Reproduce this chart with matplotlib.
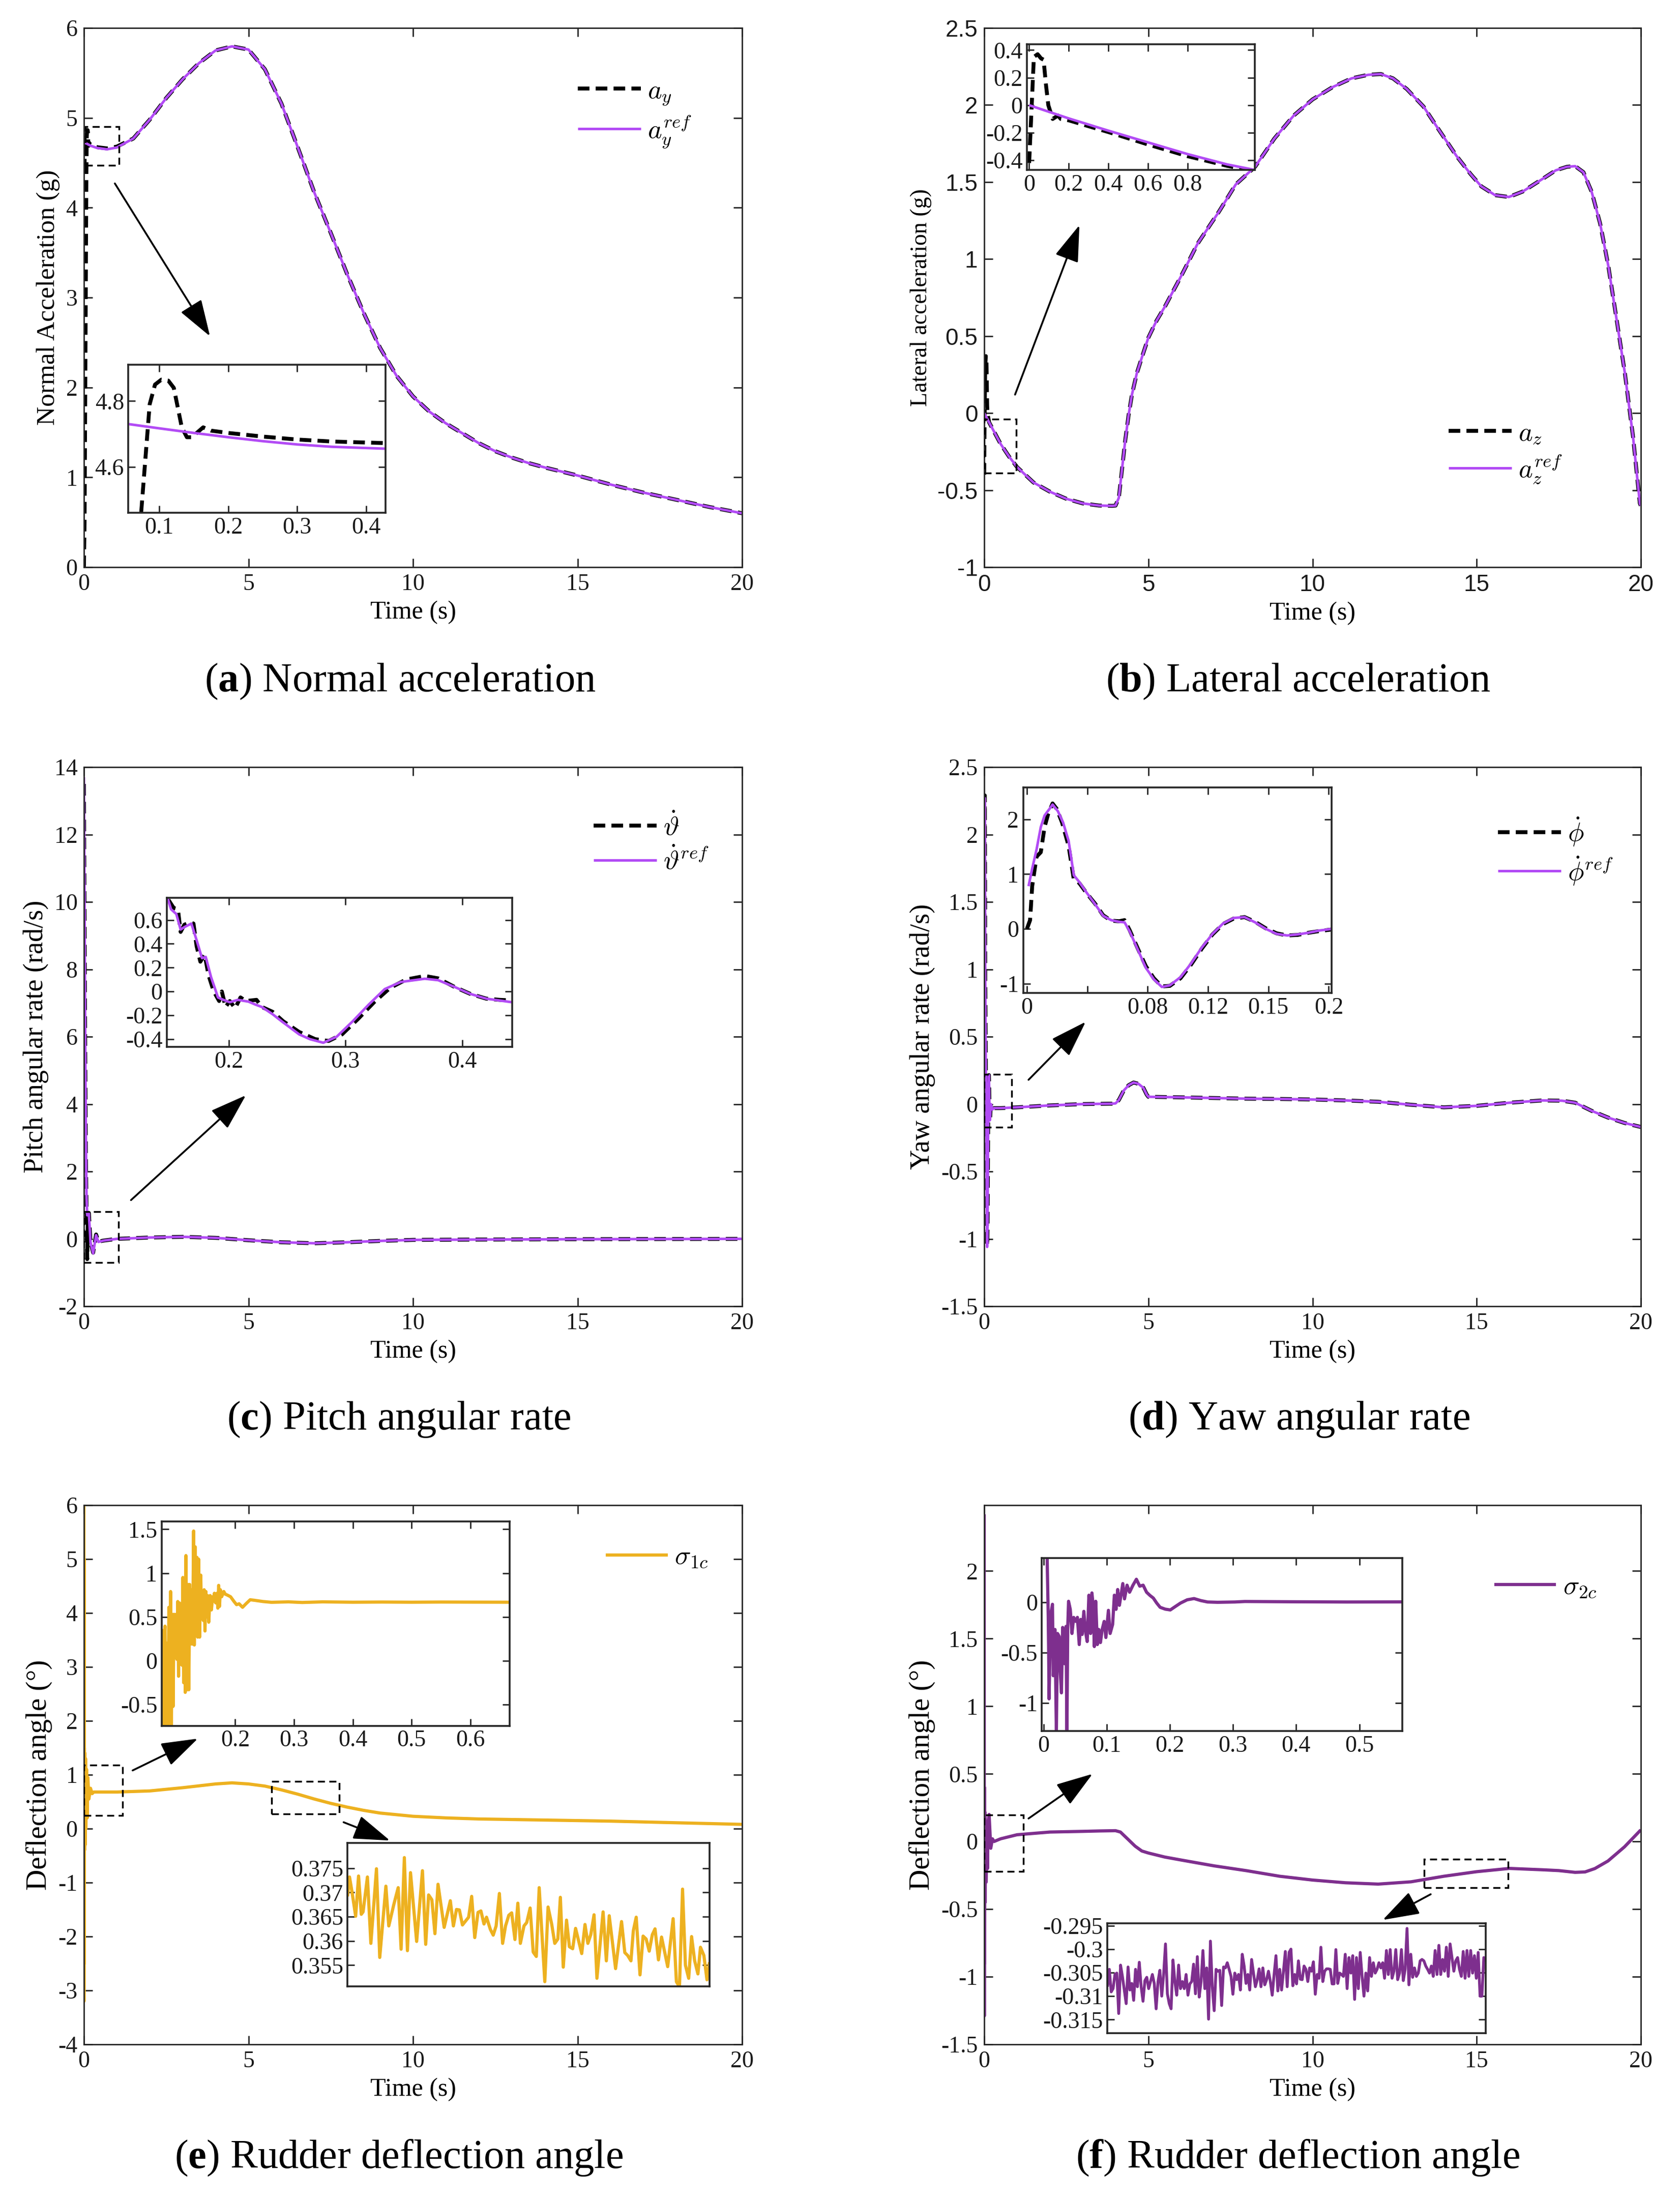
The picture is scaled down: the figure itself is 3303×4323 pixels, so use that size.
import numpy as np
import matplotlib
matplotlib.use('Agg')
import matplotlib.pyplot as plt
from matplotlib import font_manager
from matplotlib.patches import Rectangle
from matplotlib.ticker import FuncFormatter

# ---------------- DATA ----------------
# (a) normal acceleration
a_ref_t = [0, 0.05, 0.1, 0.2, 0.4, 0.7, 1.0, 1.5, 2.0, 2.5, 3.0, 3.5, 4.0, 4.5, 5.0, 5.5, 6.0, 6.5, 7.0, 7.5,
           8.0, 8.5, 9.0, 9.5, 10, 10.5, 11, 11.5, 12, 12.5, 13, 13.5, 14, 15, 16, 17, 18, 19, 20]
a_ref_v = [4.73, 4.72, 4.71, 4.69, 4.665, 4.65, 4.67, 4.77, 4.98, 5.22, 5.43, 5.61, 5.75, 5.795, 5.76, 5.54,
           5.16, 4.67, 4.17, 3.72, 3.26, 2.83, 2.44, 2.13, 1.9, 1.73, 1.6, 1.49, 1.38, 1.29, 1.22, 1.16, 1.11,
           1.02, 0.92, 0.83, 0.75, 0.67, 0.6]
a_y_t = [0, 0.02, 0.075, 0.086, 0.094, 0.103, 0.113, 0.121, 0.133, 0.14, 0.15, 0.164, 0.175, 0.2, 0.3, 0.43, 0.7,
         1.0, 1.5, 2.0, 2.5, 3.0, 3.5, 4.0, 4.5, 5.0, 5.5, 6.0, 6.5, 7.0, 7.5, 8.0, 8.5, 9.0, 9.5, 10, 10.5, 11,
         11.5, 12, 12.5, 13, 13.5, 14, 15, 16, 17, 18, 19, 20]
a_y_v = [0, 0.5, 4.4, 4.79, 4.85, 4.865, 4.862, 4.84, 4.72, 4.69, 4.69, 4.72, 4.71, 4.703, 4.683, 4.672, 4.66,
         4.68, 4.77, 4.98, 5.22, 5.43, 5.61, 5.75, 5.795, 5.76, 5.54, 5.16, 4.67, 4.17, 3.72, 3.26, 2.83, 2.44,
         2.13, 1.9, 1.73, 1.6, 1.49, 1.38, 1.29, 1.22, 1.16, 1.11, 1.02, 0.92, 0.83, 0.75, 0.67, 0.6]
ai_ref_t = [0.055, 0.1, 0.15, 0.2, 0.25, 0.3, 0.35, 0.43]
ai_ref_v = [4.73, 4.717, 4.703, 4.69, 4.678, 4.668, 4.661, 4.655]
ai_y_t = [0.068, 0.0729, 0.086, 0.0938, 0.103, 0.113, 0.121, 0.1326, 0.140, 0.147, 0.1636, 0.175, 0.2, 0.25,
          0.3, 0.35, 0.43]
ai_y_v = [4.3, 4.44, 4.79, 4.85, 4.865, 4.862, 4.84, 4.72, 4.69, 4.69, 4.72, 4.71, 4.703, 4.692, 4.683, 4.677,
          4.672]

# (b) lateral acceleration
b_body = [(0.25, -0.1), (0.5, -0.2), (0.75, -0.28), (1.0, -0.35), (1.5, -0.45), (2.0, -0.51), (2.5, -0.556),
          (3.0, -0.586), (3.5, -0.60), (3.9, -0.602), (4.0, -0.60), (4.1, -0.55), (4.2, -0.36), (4.3, -0.17),
          (4.4, -0.01), (4.5, 0.12), (4.65, 0.26), (4.8, 0.36), (5.0, 0.49), (5.25, 0.6), (5.5, 0.69),
          (6.0, 0.89), (6.5, 1.1), (7.16, 1.311), (7.66, 1.484), (8.25, 1.599), (8.84, 1.783), (9.43, 1.932),
          (10.0, 2.036), (10.61, 2.116), (11.19, 2.173), (11.7, 2.196), (12.08, 2.201), (12.45, 2.173),
          (12.87, 2.104), (13.38, 1.99), (13.88, 1.829), (14.39, 1.668), (14.81, 1.553), (15.14, 1.472),
          (15.56, 1.415), (15.98, 1.403), (16.4, 1.438), (16.91, 1.507), (17.41, 1.576), (17.75, 1.599),
          (18.0, 1.603), (18.25, 1.564), (18.5, 1.438), (18.76, 1.231), (19.01, 0.955), (19.26, 0.61),
          (19.51, 0.265), (19.76, -0.149), (19.97, -0.586), (20.0, -0.6)]
b_ref_start = [(0.0, 0.0)]
b_z_start = [(0.0, -0.4), (0.01, -0.1), (0.03, 0.3), (0.05, 0.37), (0.07, 0.33), (0.09, 0.05), (0.1, 0.0),
             (0.15, -0.06)]
bi_ref_t = [0, 0.2, 0.4, 0.6, 0.8, 1.0, 1.14]
bi_ref_v = [0.0, -0.096, -0.185, -0.27, -0.355, -0.43, -0.47]
bi_z_t = [0.0, 0.01, 0.024, 0.043, 0.06, 0.073, 0.085, 0.097, 0.119, 0.135, 0.146, 0.16, 0.2, 0.4, 0.6, 0.8,
          1.0, 1.14]
bi_z_v = [-0.42, -0.1, 0.35, 0.37, 0.34, 0.33, 0.15, 0.0, -0.1, -0.085, -0.075, -0.1, -0.11, -0.195, -0.285,
          -0.37, -0.44, -0.48]

# (c) pitch angular rate
c_ref_t = [0, 0.02, 0.04, 0.06, 0.08, 0.1, 0.15, 0.2, 0.28, 0.37, 0.44, 0.6, 1.0, 2, 3, 4, 5, 6, 7, 8, 9, 10,
           12, 15, 20]
c_ref_v = [13.7, 10, 6, 3, 1.2, 0.7, 0.75, -0.1, -0.43, 0.11, -0.09, -0.05, 0.0, 0.04, 0.06, 0.03, -0.04, -0.1,
           -0.13, -0.1, -0.06, -0.03, -0.02, -0.01, 0.0]
c_th_t = [0, 0.02, 0.04, 0.06, 0.08, 0.1, 0.12, 0.15, 0.2, 0.28, 0.37, 0.44, 0.6, 1.0, 2, 3, 4, 5, 6, 7, 8, 9,
          10, 12, 15, 20]
c_th_v = [13.5, 9.5, 5.5, 2.5, 0.8, -0.6, 0.7, 0.77, -0.1, -0.41, 0.13, -0.08, -0.05, 0.0, 0.04, 0.06, 0.03,
          -0.04, -0.1, -0.13, -0.1, -0.06, -0.03, -0.02, -0.01, 0.0]
ci_ref = [(0.1474, 0.79), (0.1506, 0.69), (0.1551, 0.65), (0.1588, 0.52), (0.1620, 0.54), (0.1680, 0.57),
          (0.1725, 0.43), (0.1771, 0.28), (0.1803, 0.29), (0.1849, 0.12), (0.1908, -0.05), (0.1954, -0.07),
          (0.2009, -0.09), (0.2078, -0.07), (0.2169, -0.085), (0.2229, -0.11), (0.2284, -0.13), (0.2375, -0.19),
          (0.2467, -0.26), (0.2604, -0.36), (0.2696, -0.40), (0.2810, -0.43), (0.2924, -0.38), (0.3062, -0.25),
          (0.3199, -0.11), (0.3336, 0.02), (0.3474, 0.08), (0.3680, 0.107), (0.3794, 0.095), (0.3931, 0.04),
          (0.4069, -0.02), (0.4206, -0.06), (0.4426, -0.09)]
ci_th = [(0.1483, 0.77), (0.1529, 0.70), (0.1565, 0.69), (0.1588, 0.50), (0.1620, 0.56), (0.1666, 0.58),
         (0.1698, 0.57), (0.1725, 0.38), (0.1757, 0.25), (0.1794, 0.31), (0.1826, 0.14), (0.1872, 0.0),
         (0.1918, -0.08), (0.1941, 0.0), (0.1973, -0.13), (0.2009, -0.08), (0.2055, -0.14), (0.2101, -0.05),
         (0.2146, -0.08), (0.2238, -0.07), (0.2284, -0.13), (0.2375, -0.17), (0.2467, -0.25), (0.2604, -0.34),
         (0.2741, -0.40), (0.2856, -0.415), (0.2970, -0.36), (0.3108, -0.23), (0.3245, -0.09), (0.3382, 0.03),
         (0.3519, 0.10), (0.3680, 0.13), (0.3794, 0.11), (0.3931, 0.04), (0.4069, -0.02), (0.4206, -0.06),
         (0.4320, -0.07), (0.4426, -0.075)]

# (d) yaw angular rate
di_ref = [(0.0011, 0.78), (0.0035, 1.1), (0.0064, 1.45), (0.0092, 1.86), (0.0117, 2.07), (0.0152, 2.2),
          (0.0170, 2.27), (0.0205, 2.15), (0.0240, 1.94), (0.0276, 1.61), (0.0311, 0.98), (0.0346, 0.86),
          (0.0399, 0.65), (0.0452, 0.45), (0.0505, 0.24), (0.0558, 0.16), (0.0611, 0.13), (0.0647, 0.12),
          (0.0682, -0.05), (0.0735, -0.38), (0.0788, -0.71), (0.0841, -0.92), (0.0894, -1.06), (0.0947, -1.03),
          (0.1018, -0.88), (0.1088, -0.63), (0.1159, -0.34), (0.1230, -0.09), (0.1300, 0.1), (0.1371, 0.2),
          (0.1442, 0.215), (0.1512, 0.12), (0.1583, 0.0), (0.1654, -0.09), (0.1724, -0.12), (0.1795, -0.1),
          (0.1866, -0.07), (0.1936, -0.03), (0.2021, 0.0)]
di_ph = [(0.0, 0.0), (0.0021, 0.16), (0.0035, 0.78), (0.0064, 1.32), (0.0092, 1.40), (0.0117, 1.86),
         (0.0141, 2.1), (0.0170, 2.29), (0.0198, 2.19), (0.0233, 1.94), (0.0276, 1.52), (0.0311, 0.9),
         (0.0346, 0.84), (0.0399, 0.64), (0.0452, 0.46), (0.0505, 0.25), (0.0558, 0.15), (0.0611, 0.14),
         (0.0647, 0.16), (0.0682, -0.03), (0.0735, -0.36), (0.0788, -0.68), (0.0841, -0.9), (0.0894, -1.05),
         (0.0947, -1.04), (0.1018, -0.9), (0.1088, -0.65), (0.1159, -0.36), (0.1230, -0.1), (0.1300, 0.09),
         (0.1371, 0.19), (0.1442, 0.215), (0.1512, 0.13), (0.1583, 0.01), (0.1654, -0.08), (0.1724, -0.12),
         (0.1795, -0.11), (0.1866, -0.07), (0.1936, -0.04), (0.2021, -0.01)]
d_late = [(0.25, -0.04), (0.3, -0.03), (0.5, -0.03), (1, -0.024), (2, -0.01), (3, 0.0), (3.9, 0.003),
          (4.0, 0.005), (4.1, 0.03), (4.25, 0.1), (4.4, 0.14), (4.55, 0.16), (4.7, 0.15), (4.85, 0.12),
          (4.95, 0.07), (5.0, 0.054), (6, 0.05), (7, 0.045), (8, 0.04), (9, 0.038), (10, 0.034), (11, 0.027),
          (12, 0.017), (13, -0.005), (14, -0.024), (15, -0.013), (16, 0.01), (17, 0.027), (17.6, 0.025),
          (18, 0.01), (18.5, -0.05), (19, -0.1), (19.5, -0.14), (20, -0.17)]

# (e) rudder deflection sigma_1c
e_t = [0, 0.003, 0.006, 0.01, 0.015, 0.02, 0.03, 0.04, 0.05, 0.06, 0.08, 0.1, 0.12, 0.15, 0.2, 0.25, 0.3, 0.5, 1,
       2, 3, 4, 4.5, 5, 5.5, 6, 6.5, 7, 7.5, 8, 8.5, 9, 9.5, 10, 11, 12, 14, 16, 18, 20]
e_v = [6.0, -3.2, 5.0, -2.5, 1.5, -0.4, 1.4, -0.3, 1.3, 0.0, 1.1, 0.2, 0.95, 0.55, 0.75, 0.65, 0.68, 0.68, 0.68,
       0.7, 0.76, 0.83, 0.85, 0.83, 0.79, 0.72, 0.64, 0.55, 0.47, 0.40, 0.34, 0.29, 0.26, 0.23, 0.2, 0.18, 0.16,
       0.14, 0.11, 0.08]
ei1 = [(0.0748, 0.0), (0.0762, 0.347), (0.0775, -0.73), (0.0790, 0.2), (0.0806, 0.395), (0.0820, -0.73),
       (0.0843, 0.2), (0.0857, -0.73), (0.0872, 0.61), (0.0886, -0.5), (0.0901, 0.79), (0.0915, -0.73),
       (0.0930, 0.53), (0.0944, -0.52), (0.0959, 0.53), (0.0973, 0.114), (0.0994, 0.53), (0.1008, 0.017),
       (0.1023, 0.676), (0.1037, -0.176), (0.1052, 0.66), (0.1066, -0.04), (0.1081, 0.65), (0.1095, -0.05),
       (0.1110, 0.95), (0.1124, -0.25), (0.1139, 0.85), (0.1150, -0.36), (0.1162, 1.2), (0.1180, -0.33),
       (0.1197, 0.87), (0.1211, -0.33), (0.1226, 0.87), (0.1240, 0.19), (0.1261, 0.81), (0.1275, 0.19),
       (0.1293, 1.48), (0.1305, 0.18), (0.1319, 1.30), (0.1333, 0.31), (0.1348, 1.18), (0.1362, 0.27),
       (0.1377, 1.16), (0.1395, 0.27), (0.1414, 0.977), (0.1428, 0.50), (0.1443, 0.79), (0.1457, 0.46),
       (0.1472, 0.81), (0.1486, 0.34), (0.1501, 0.79), (0.1515, 0.50), (0.1530, 0.744), (0.1550, 0.44),
       (0.1574, 0.744), (0.1595, 0.58), (0.1617, 0.73), (0.1632, 0.68), (0.1646, 0.77), (0.1668, 0.66),
       (0.1690, 0.77), (0.1705, 0.60), (0.1719, 0.86), (0.1733, 0.62), (0.1748, 0.81), (0.1770, 0.73),
       (0.1806, 0.79), (0.1830, 0.76), (0.1864, 0.75), (0.1922, 0.73), (0.1980, 0.676), (0.2023, 0.64),
       (0.2067, 0.65), (0.2125, 0.61), (0.2183, 0.65), (0.2255, 0.696), (0.2328, 0.69), (0.2472, 0.676),
       (0.2617, 0.667), (0.2907, 0.672), (0.3139, 0.665), (0.3487, 0.672), (0.40, 0.668), (0.45, 0.67),
       (0.50, 0.668), (0.55, 0.67), (0.60, 0.669), (0.667, 0.668)]
ei2 = [(5.800, 0.3692), (5.811, 0.3732), (5.824, 0.3703), (5.845, 0.3651), (5.861, 0.3734), (5.876, 0.3655),
       (5.886, 0.3660), (5.910, 0.3732), (5.929, 0.3595), (5.960, 0.3749), (5.978, 0.3566), (6.012, 0.3713),
       (6.028, 0.3631), (6.055, 0.3674), (6.080, 0.3710), (6.096, 0.3583), (6.114, 0.3772), (6.131, 0.3580),
       (6.148, 0.3741), (6.182, 0.3599), (6.214, 0.3745), (6.232, 0.3593), (6.248, 0.3695), (6.266, 0.3685),
       (6.283, 0.3615), (6.300, 0.3717), (6.334, 0.3628), (6.368, 0.3683), (6.385, 0.3631), (6.402, 0.3665),
       (6.418, 0.3664), (6.435, 0.3633), (6.469, 0.3649), (6.486, 0.3692), (6.503, 0.3607), (6.521, 0.3659),
       (6.537, 0.3662), (6.554, 0.3635), (6.568, 0.3649), (6.589, 0.3624), (6.605, 0.3612), (6.621, 0.3631),
       (6.639, 0.3698), (6.657, 0.3595), (6.673, 0.3631), (6.691, 0.3653), (6.707, 0.3658), (6.725, 0.3603),
       (6.741, 0.3678), (6.755, 0.3595), (6.775, 0.3631), (6.790, 0.3638), (6.809, 0.3668), (6.826, 0.3577),
       (6.843, 0.3568), (6.859, 0.3710), (6.890, 0.3516), (6.908, 0.3670), (6.928, 0.3635), (6.945, 0.3595),
       (6.962, 0.3604), (6.976, 0.3690), (6.992, 0.3546), (7.010, 0.3643), (7.026, 0.3588), (7.044, 0.3584),
       (7.060, 0.3626), (7.094, 0.3574), (7.112, 0.3634), (7.128, 0.3595), (7.144, 0.3613), (7.162, 0.3654),
       (7.178, 0.3523), (7.212, 0.3660), (7.230, 0.3559), (7.246, 0.3652), (7.281, 0.3543), (7.314, 0.3640),
       (7.332, 0.3576), (7.348, 0.3570), (7.366, 0.3559), (7.379, 0.3621), (7.395, 0.3649), (7.416, 0.3530),
       (7.433, 0.3610), (7.450, 0.3604), (7.467, 0.3579), (7.484, 0.3613), (7.499, 0.3625), (7.518, 0.3561),
       (7.535, 0.3608), (7.569, 0.3547), (7.599, 0.3646), (7.617, 0.3516), (7.634, 0.3505), (7.651, 0.3707),
       (7.667, 0.3550), (7.685, 0.3523), (7.701, 0.3609), (7.718, 0.3559), (7.736, 0.3532), (7.750, 0.3587),
       (7.769, 0.3570), (7.786, 0.3520), (7.800, 0.3556)]

# (f) rudder deflection sigma_2c
f_t = [0, 0.004, 0.008, 0.012, 0.02, 0.03, 0.04, 0.06, 0.08, 0.1, 0.12, 0.15, 0.2, 0.25, 0.3, 0.5, 1, 2, 3, 3.5,
       4, 4.15, 4.3, 4.45, 4.6, 4.8, 5, 5.5, 6, 7, 8, 9, 10, 11, 12, 13, 14, 15, 16, 17, 17.5, 18, 18.3, 18.6,
       19, 19.5, 20]
f_v = [2.42, -1.29, 0.4, -0.9, 0.22, -0.45, 0.1, -0.3, 0.05, -0.2, 0.15, 0.2, -0.05, 0.02, 0.0, 0.02, 0.05, 0.07,
       0.075, 0.078, 0.08, 0.07, 0.035, 0.0, -0.035, -0.07, -0.085, -0.115, -0.137, -0.18, -0.216, -0.257,
       -0.285, -0.305, -0.315, -0.298, -0.257, -0.223, -0.199, -0.209, -0.215, -0.228, -0.225, -0.2, -0.144,
       -0.04, 0.086]
fi1 = [(0.0, 2.4), (0.0074, -0.136), (0.0080, -0.44), (0.0087, -0.96), (0.0114, -0.12), (0.0141, -0.02),
       (0.0154, -0.73), (0.0181, -0.27), (0.0203, -1.29), (0.0221, -0.31), (0.0248, -0.34), (0.0262, -0.66),
       (0.0283, -0.90), (0.0302, -0.25), (0.0329, -0.61), (0.0356, -0.24), (0.0370, -1.27), (0.0383, -0.25),
       (0.0396, 0.01), (0.0423, -0.07), (0.0450, -0.31), (0.0477, -0.15), (0.0509, -0.19), (0.0536, -0.15),
       (0.0565, -0.42), (0.0589, -0.17), (0.0611, -0.32), (0.0638, -0.09), (0.0664, -0.29), (0.0691, -0.39),
       (0.0718, 0.07), (0.0745, -0.31), (0.0766, 0.093), (0.0785, -0.03), (0.0804, -0.44), (0.0826, 0.01),
       (0.0852, -0.42), (0.0874, -0.27), (0.0901, -0.40), (0.0928, -0.27), (0.0960, -0.19), (0.0987, -0.35),
       (0.1027, -0.08), (0.1054, -0.31), (0.1094, -0.22), (0.1121, 0.07), (0.1148, -0.07), (0.1174, 0.127),
       (0.1201, -0.03), (0.1255, 0.186), (0.1282, 0.034), (0.1322, 0.17), (0.1362, 0.10), (0.1416, 0.17),
       (0.1470, 0.229), (0.1523, 0.16), (0.1577, 0.17), (0.1631, 0.10), (0.1685, 0.068), (0.1738, 0.042),
       (0.1792, -0.008), (0.1846, -0.05), (0.1926, -0.068), (0.2007, -0.076), (0.2087, -0.042),
       (0.2168, -0.008), (0.2275, 0.025), (0.2383, 0.037), (0.2490, 0.017), (0.2597, 0.003), (0.2758, 0.0),
       (0.3027, 0.003), (0.3188, 0.008), (0.40, 0.005), (0.48, 0.003), (0.568, 0.004)]
fi2_v = [-0.3080, -0.3043, -0.3091, -0.3084, -0.3054, -0.3051, -0.3137, -0.3034, -0.3058, -0.3087, -0.3116,
         -0.3038, -0.3087, -0.3073, -0.3109, -0.3043, -0.3080, -0.3028, -0.3080, -0.3111, -0.3067, -0.3060,
         -0.3084, -0.3069, -0.3054, -0.3073, -0.3127, -0.3069, -0.3045, -0.3100, -0.3054, -0.2989, -0.3095,
         -0.3116, -0.3127, -0.3023, -0.3069, -0.3098, -0.3034, -0.3084, -0.3069, -0.3084, -0.3054, -0.3098,
         -0.3074, -0.3069, -0.3032, -0.3095, -0.3016, -0.3102, -0.3069, -0.3003, -0.3084, -0.3040, -0.3149,
         -0.2983, -0.3080, -0.3131, -0.3043, -0.3047, -0.3045, -0.3120, -0.3038, -0.3040, -0.3029, -0.3043,
         -0.3058, -0.3096, -0.3051, -0.3065, -0.3054, -0.3087, -0.3011, -0.3036, -0.3073, -0.3054, -0.3087,
         -0.3022, -0.3051, -0.3080, -0.3065, -0.3042, -0.3080, -0.3040, -0.3076, -0.3065, -0.3047, -0.3069,
         -0.3098, -0.3054, -0.3014, -0.3089, -0.3043, -0.3087, -0.3047, -0.3005, -0.3080, -0.3007, -0.3000,
         -0.3078, -0.3054, -0.3074, -0.3025, -0.3064, -0.3065, -0.3036, -0.3043, -0.3069, -0.3040, -0.3047,
         -0.3027, -0.3096, -0.3054, -0.3062, -0.2996, -0.3069, -0.3047, -0.3042, -0.3042, -0.3043, -0.3074,
         -0.3074, -0.3001, -0.3073, -0.3051, -0.3054, -0.3058, -0.3011, -0.3084, -0.3018, -0.3051, -0.3014,
         -0.3107, -0.3018, -0.3084, -0.3007, -0.3058, -0.3100, -0.3051, -0.3089, -0.3018, -0.3058, -0.3029,
         -0.3051, -0.3043, -0.3029, -0.3040, -0.3029, -0.3062, -0.3003, -0.3054, -0.3001, -0.3062, -0.3047,
         -0.3001, -0.3065, -0.3051, -0.3001, -0.3067, -0.3043, -0.2956, -0.3076, -0.3011, -0.3060, -0.3040,
         -0.3058, -0.3051, -0.3025, -0.3022, -0.3025, -0.3036, -0.3043, -0.3051, -0.3036, -0.3058, -0.3003,
         -0.3054, -0.2992, -0.3054, -0.3022, -0.3047, -0.2996, -0.3058, -0.2989, -0.3018, -0.3047, -0.3025,
         -0.3018, -0.3043, -0.3058, -0.3005, -0.3062, -0.3003, -0.3058, -0.3003, -0.3051, -0.3014, -0.3062,
         -0.3007, -0.3100, -0.3100, -0.3018, -0.3025]
fi2_span = (13.4, 15.96)

x_ticks = [0, 5, 10, 15, 20]

# ---------------- STYLE ----------------
_names = {f.name for f in font_manager.fontManager.ttflist}


def pick(cands):
    for c in cands:
        if c in _names:
            return c
    return cands[-1]


SERIF = pick(['Liberation Serif', 'Nimbus Roman', 'Times New Roman', 'DejaVu Serif'])
SANS = pick(['Liberation Sans', 'Arimo', 'Arial', 'DejaVu Sans'])

plt.rcParams.update({
    'font.family': [SERIF, 'DejaVu Serif'],
    'mathtext.fontset': 'cm',
    'mathtext.rm': SERIF,
    'mathtext.bf': SERIF + ':bold',
    'axes.unicode_minus': False,
    'lines.solid_capstyle': 'butt',
    'lines.dash_capstyle': 'butt',
})

PURPLE = '#B24BF5'
ORANGE = '#EDB120'
DPURPLE = '#7E2F8E'
AXC = '#262626'
W, H = 3303, 4323
TICKFS = 33
LABFS = 36
CAPFS = 58
fmt = FuncFormatter(lambda v, p: '%g' % round(v, 6))

fig = plt.figure(figsize=(W / 100, H / 100), dpi=100)


def axrect(l, r, t, b):
    return [l / W, 1 - b / H, (r - l) / W, (b - t) / H]


cols = [(165, 1459), (1935, 3226)]
rows = [(55, 1115), (1508, 2568), (2959, 4019)]


def style(ax, fs=TICKFS, lw=2.0, tl=12):
    ax.tick_params(direction='in', top=True, right=True, length=tl, width=2, labelsize=fs, pad=9,
                   colors=AXC, labelcolor='#1a1a1a')
    for s in ax.spines.values():
        s.set_linewidth(lw)
        s.set_color(AXC)
    ax.xaxis.set_major_formatter(fmt)
    ax.yaxis.set_major_formatter(fmt)


def main_axes(ci, ri, ylim, yticks, ylabel, ylabfs=LABFS):
    ax = fig.add_axes(axrect(cols[ci][0], cols[ci][1], rows[ri][0], rows[ri][1]))
    ax.set_xlim(0, 20)
    ax.set_ylim(*ylim)
    ax.set_xticks(x_ticks)
    ax.set_yticks(yticks)
    style(ax)
    ax.set_xlabel('Time (s)', fontsize=LABFS, labelpad=8)
    ax.set_ylabel(ylabel, fontsize=ylabfs, labelpad=8)
    return ax


def inset(ax, bounds, xlim, ylim, xticks, yticks, fs=TICKFS):
    ia = ax.inset_axes(bounds)
    ia.set_facecolor('white')
    ia.set_xlim(*xlim)
    ia.set_ylim(*ylim)
    ia.set_xticks(xticks)
    ia.set_yticks(yticks)
    style(ia, fs=fs, lw=2.6, tl=10)
    ia.tick_params(pad=6)
    return ia


def rect(ax, x0, y0, w, h):
    ax.add_patch(Rectangle((x0, y0), w, h, fill=False, ec='k', lw=2.5, ls=(0, (4, 2.5)), zorder=4))


def arrow(ax, tail, head):
    ax.annotate('', xy=head, xytext=tail,
                arrowprops=dict(arrowstyle='-|>,head_length=0.9,head_width=0.3', color='k', lw=2.6,
                                shrinkA=0, shrinkB=0, mutation_scale=50), zorder=6)


def caption(x, y, letter, text):
    fig.text(x, y, r'($\mathbf{%s}$) %s' % (letter, text), fontsize=CAPFS, ha='center', va='center',
             math_fontfamily='custom', family=SERIF)


DASH = dict(color='k', lw=5.5, ls=(0, (3, 1.6)))
SOL = dict(color=PURPLE, lw=3.6)


def leg(ax, x, y, fs=38, hl=2.35):
    ax.legend(loc='upper left', bbox_to_anchor=(x, y), frameon=False, fontsize=fs, handlelength=hl,
              handletextpad=0.25, borderpad=0, borderaxespad=0, labelspacing=0.25)


# ---------------- (a) ----------------
ax = main_axes(0, 0, (0, 6), range(0, 7), 'Normal Acceleration (g)', ylabfs=37)
ax.plot(a_y_t, a_y_v, label=r'$a_y$', **DASH)
ax.plot(a_ref_t, a_ref_v, label=r'$a_y^{ref}$', **SOL)
leg(ax, 0.75, 0.905)
rect(ax, 0.05, 4.47, 1.01, 0.43)
arrow(ax, (0.94, 4.27), (3.83, 2.57))
ia = inset(ax, [0.0674, 0.1006, 0.3908, 0.2747], (0.055, 0.428), (4.46, 4.91), [0.1, 0.2, 0.3, 0.4], [4.6, 4.8])
ia.plot(ai_y_t, ai_y_v, **DASH)
ia.plot(ai_ref_t, ai_ref_v, **SOL)

# ---------------- (b) ----------------
ax = main_axes(1, 0, (-1, 2.5), np.arange(-1, 2.51, 0.5), 'Lateral acceleration (g)', ylabfs=33)
ax.tick_params(labelfontfamily=SANS)
b_ref = b_ref_start + b_body
b_z = b_z_start + b_body[1:]
ax.plot(*zip(*b_z), label=r'$a_z$', **DASH)
ax.plot(*zip(*b_ref), label=r'$a_z^{ref}$', **SOL)
leg(ax, 0.707, 0.27)
rect(ax, 0.0, -0.39, 0.98, 0.35)
arrow(ax, (0.94, 0.12), (2.90, 1.22))
ia = inset(ax, [0.0651, 0.737, 0.347, 0.233], (-0.011, 1.14), (-0.469, 0.443), [0, 0.2, 0.4, 0.6, 0.8],
           [-0.4, -0.2, 0, 0.2, 0.4])
ia.plot(bi_z_t, bi_z_v, **DASH)
ia.plot(bi_ref_t, bi_ref_v, **SOL)

# ---------------- (c) ----------------
ax = main_axes(0, 1, (-2, 14), range(-2, 15, 2), 'Pitch angular rate (rad/s)', ylabfs=39)
ax.plot(c_th_t, c_th_v, label=r'$\dot{\vartheta}$', **DASH)
ax.plot(c_ref_t, c_ref_v, label=r'$\dot{\vartheta}^{ref}$', **SOL)
leg(ax, 0.774, 0.915)
rect(ax, 0.0, -0.70, 1.05, 1.51)
arrow(ax, (1.43, 1.15), (4.92, 4.26))
ia = inset(ax, [0.126, 0.481, 0.525, 0.277], (0.147, 0.443), (-0.465, 0.788), [0.2, 0.3, 0.4],
           np.arange(-0.4, 0.61, 0.2))
ia.plot(*zip(*ci_th), **DASH)
ia.plot(*zip(*ci_ref), **SOL)

# ---------------- (d) ----------------
ax = main_axes(1, 1, (-1.5, 2.5), np.arange(-1.5, 2.51, 0.5), 'Yaw angular rate (rad/s)', ylabfs=39)
d_ph = di_ph + d_late
d_ref = [(0.0, 0.78)] + di_ref + d_late
ax.plot(*zip(*d_ph), label=r'$\dot{\phi}$', **DASH)
ax.plot(*zip(*d_ref), label=r'$\dot{\phi}^{ref}$', **SOL)
leg(ax, 0.782, 0.91)
rect(ax, 0.0, -0.17, 0.83, 0.39)
arrow(ax, (1.35, 0.18), (3.09, 0.61))
ia = inset(ax, [0.0593, 0.581, 0.470, 0.381], (-0.0025, 0.202), (-1.17, 2.58),
           [0, 0.04, 0.08, 0.12, 0.16, 0.2], [-1, 0, 1, 2])
ia.set_xticklabels(['0', '', '0.08', '0.12', '0.15', '0.2'])
ia.plot(*zip(*di_ph), **DASH)
ia.plot(*zip(*di_ref), **SOL)

# ---------------- (e) ----------------
ax = main_axes(0, 2, (-4, 6), range(-4, 7), 'Deflection angle (°)', ylabfs=41)
ax.plot(e_t, e_v, color=ORANGE, lw=4.5, label=r'$\sigma_{1c}$')
leg(ax, 0.793, 0.925, hl=2.3)
rect(ax, 0.0, 0.25, 1.18, 0.93)
rect(ax, 5.70, 0.275, 2.06, 0.60)
arrow(ax, (1.48, 1.08), (3.46, 1.67))
arrow(ax, (7.89, 0.12), (9.30, -0.22))
ia = inset(ax, [0.118, 0.591, 0.529, 0.379], (0.0748, 0.667), (-0.74, 1.59), [0.2, 0.3, 0.4, 0.5, 0.6],
           [-0.5, 0, 0.5, 1, 1.5])
ia.plot(*zip(*ei1), color=ORANGE, lw=4.5)
ia = inset(ax, [0.4005, 0.1073, 0.55, 0.266], (5.8, 7.8), (0.3506, 0.3802), [],
           [0.355, 0.36, 0.365, 0.37, 0.375])
ia.plot(*zip(*ei2), color=ORANGE, lw=4.5)

# ---------------- (f) ----------------
ax = main_axes(1, 2, (-1.5, 2.487), np.arange(-1.5, 2.01, 0.5), 'Deflection angle (°)', ylabfs=41)
ax.plot(f_t, f_v, color=DPURPLE, lw=4.5, label=r'$\sigma_{2c}$')
leg(ax, 0.777, 0.87, hl=2.3)
rect(ax, 0.0, -0.22, 1.19, 0.415)
rect(ax, 13.4, -0.34, 2.56, 0.21)
arrow(ax, (1.35, 0.17), (3.30, 0.50))
arrow(ax, (13.6, -0.39), (12.14, -0.58))
ia = inset(ax, [0.0877, 0.581, 0.549, 0.321], (-0.0028, 0.568), (-1.28, 0.44), [0, 0.1, 0.2, 0.3, 0.4, 0.5],
           [-1, -0.5, 0])
ia.plot(*zip(*fi1), color=DPURPLE, lw=4.5)
ia = inset(ax, [0.1877, 0.0206, 0.576, 0.204], fi2_span, (-0.3179, -0.2945), [],
           [-0.315, -0.31, -0.305, -0.3, -0.295])
ia.plot(np.linspace(fi2_span[0], fi2_span[1], len(fi2_v)), fi2_v, color=DPURPLE, lw=4.0)

# ---------------- captions ----------------
caption(0.2383, 0.690, 'a', 'Normal acceleration')
caption(0.7726, 0.690, 'b', 'Lateral acceleration')
caption(0.2375, 0.3544, 'c', 'Pitch angular rate')
caption(0.7733, 0.3544, 'd', 'Yaw angular rate')
caption(0.2375, 0.0187, 'e', 'Rudder deflection angle')
caption(0.7726, 0.0187, 'f', 'Rudder deflection angle')

fig.savefig('out.png', dpi=100, facecolor='white')
